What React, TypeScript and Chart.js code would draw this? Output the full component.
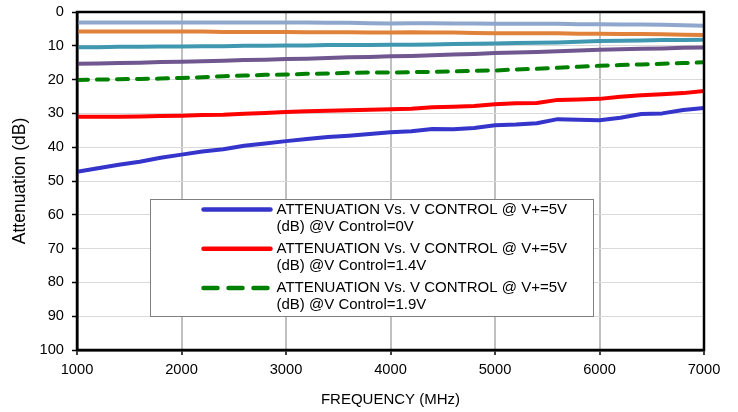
import { useEffect, useRef } from 'react';
import { Chart, registerables } from 'chart.js';

Chart.register(...registerables);

const frequencies = [
  1000, 1200, 1400, 1600, 1800, 2000, 2200, 2400, 2600, 2800, 3000, 3200, 3400, 3600, 3800, 4000,
  4200, 4400, 4600, 4800, 5000, 5200, 5400, 5600, 5800, 6000, 6200, 6400, 6600, 6800, 7000,
];

const att0V = [
  47.3, 46.2, 45.2, 44.3, 43.1, 42.2, 41.3, 40.6, 39.6, 38.9, 38.2, 37.6, 37.0, 36.6, 36.1, 35.6,
  35.3, 34.6, 34.7, 34.3, 33.5, 33.3, 32.9, 31.7, 31.9, 32.0, 31.3, 30.2, 30.0, 29.0, 28.4,
];
const att14V = [
  31.0, 31.0, 31.0, 30.9, 30.8, 30.7, 30.5, 30.4, 30.1, 29.9, 29.6, 29.4, 29.2, 29.1, 28.9, 28.8,
  28.6, 28.2, 28.0, 27.8, 27.3, 27.0, 26.9, 26.0, 25.9, 25.7, 25.1, 24.6, 24.3, 24.0, 23.4,
];
const att19V = [
  20.1, 20.0, 19.9, 19.8, 19.7, 19.5, 19.3, 19.0, 18.8, 18.6, 18.5, 18.3, 18.2, 18.0, 17.9, 17.9,
  17.8, 17.7, 17.6, 17.4, 17.3, 17.0, 16.8, 16.5, 16.2, 15.9, 15.7, 15.5, 15.3, 15.1, 14.9,
];
const attTraceD = [
  15.3, 15.2, 15.1, 15.0, 14.8, 14.7, 14.6, 14.4, 14.2, 14.1, 13.9, 13.8, 13.6, 13.4, 13.3, 13.1,
  13.0, 12.8, 12.6, 12.4, 12.1, 12.0, 11.8, 11.6, 11.4, 11.2, 11.0, 10.9, 10.8, 10.6, 10.5,
];
const attTraceC = [
  10.4, 10.4, 10.3, 10.3, 10.2, 10.2, 10.1, 10.1, 10.0, 10.0, 9.9, 9.9, 9.8, 9.8, 9.8, 9.7,
  9.7, 9.6, 9.5, 9.4, 9.3, 9.2, 9.1, 9.0, 8.8, 8.6, 8.5, 8.4, 8.3, 8.3, 8.2,
];
const attTraceB = [
  5.8, 5.8, 5.8, 5.8, 5.8, 5.8, 5.8, 5.9, 5.9, 5.9, 5.9, 6.0, 6.0, 6.0, 6.1, 6.1,
  6.0, 6.1, 6.1, 6.2, 6.3, 6.3, 6.3, 6.3, 6.4, 6.4, 6.5, 6.5, 6.6, 6.7, 6.8,
];
const attTraceA = [
  3.1, 3.1, 3.1, 3.1, 3.1, 3.1, 3.1, 3.1, 3.1, 3.1, 3.1, 3.1, 3.2, 3.2, 3.3, 3.4,
  3.3, 3.3, 3.4, 3.4, 3.5, 3.5, 3.5, 3.5, 3.6, 3.6, 3.7, 3.7, 3.8, 3.9, 4.1,
];

const legendTitle = 'ATTENUATION Vs. V CONTROL @ V+=5V';
const legendSubtitles = ['(dB) @V Control=0V', '(dB) @V Control=1.4V', '(dB) @V Control=1.9V'];

const xTicks = [1000, 2000, 3000, 4000, 5000, 6000, 7000];
const yTicks = [0, 10, 20, 30, 40, 50, 60, 70, 80, 90, 100];

const xTitle = 'FREQUENCY (MHz)';
const yTitle = 'Attenuation (dB)';

const FONT = "'Liberation Sans', Arial, Helvetica, sans-serif";

const toPoints = (vals: number[]) => frequencies.map((f, i) => ({ x: f, y: vals[i] }));

const frameAndLegend = {
  id: 'frameAndLegend',
  afterDraw(chart: any) {
    const { ctx, chartArea: ca } = chart;
    ctx.save();
    // frame around plot area
    ctx.strokeStyle = '#000';
    ctx.lineWidth = 2.5;
    ctx.strokeRect(ca.left, ca.top, ca.right - ca.left, ca.bottom - ca.top);

    // legend box
    const bx = ca.left + 73.5;
    const by = ca.top + 187.5;
    const bw = 443;
    const bh = 117;
    ctx.fillStyle = '#fff';
    ctx.fillRect(bx, by, bw, bh);
    ctx.strokeStyle = '#7f7f7f';
    ctx.lineWidth = 1;
    ctx.strokeRect(bx, by, bw, bh);

    const items = chart.data.datasets
      .filter((d: any) => d.legendLines)
      .sort((a: any, b: any) => a.legendOrder - b.legendOrder);
    ctx.font = `15px ${FONT}`;
    ctx.textBaseline = 'middle';
    ctx.textAlign = 'left';
    items.forEach((d: any, i: number) => {
      const cy = by + 10 + i * 39.2;
      ctx.save();
      ctx.strokeStyle = d.borderColor;
      ctx.lineWidth = 4.5;
      ctx.lineCap = 'round';
      ctx.setLineDash(d.borderDash && d.borderDash.length ? [14, 11] : []);
      ctx.beginPath();
      ctx.moveTo(bx + 53, cy);
      ctx.lineTo(bx + 120, cy);
      ctx.stroke();
      ctx.restore();
      ctx.fillStyle = '#000';
      d.legendLines.forEach((t: string, j: number) => {
        ctx.fillText(t, bx + 126, cy + j * 17.4);
      });
    });
    ctx.restore();
  },
};

export default function App() {
  const ref = useRef<HTMLCanvasElement | null>(null);

  useEffect(() => {
    if (!ref.current) return;
    const mk = (label: string, vals: number[], color: string, extra: any = {}) => ({
      label,
      data: toPoints(vals),
      borderColor: color,
      backgroundColor: color,
      borderWidth: 4,
      pointRadius: 0,
      fill: false,
      tension: 0,
      borderJoinStyle: 'round',
      ...extra,
    });
    const chart = new Chart(ref.current, {
      type: 'line',
      data: {
        datasets: [
          mk('Trace A', attTraceA, '#8fa7cd'),
          mk('Trace B', attTraceB, '#e0823a'),
          mk('Trace C', attTraceC, '#3f98b0'),
          mk('Trace D', attTraceD, '#70578f'),
          mk(`${legendTitle} ${legendSubtitles[2]}`, att19V, '#008000', {
            borderDash: [11, 9],
            borderCapStyle: 'round',
            legendLines: [legendTitle, legendSubtitles[2]],
            legendOrder: 2,
          }),
          mk(`${legendTitle} ${legendSubtitles[1]}`, att14V, '#ff0000', {
            legendLines: [legendTitle, legendSubtitles[1]],
            legendOrder: 1,
          }),
          mk(`${legendTitle} ${legendSubtitles[0]}`, att0V, '#3535cc', {
            legendLines: [legendTitle, legendSubtitles[0]],
            legendOrder: 0,
          }),
        ] as any,
      },
      options: {
        responsive: true,
        maintainAspectRatio: false,
        animation: false,
        layout: { padding: { top: 12, right: 34, left: 0, bottom: 0 } },
        plugins: {
          legend: { display: false },
          tooltip: { enabled: false },
        },
        scales: {
          x: {
            type: 'linear',
            min: xTicks[0],
            max: xTicks[xTicks.length - 1],
            afterBuildTicks: (s: any) => {
              s.ticks = xTicks.map((v) => ({ value: v }));
            },
            afterFit: (s: any) => {
              s.height = 62;
              s.paddingLeft = 0;
              s.paddingRight = 0;
            },
            ticks: {
              color: '#000',
              font: { family: FONT, size: 14.67 },
              padding: 6,
              maxRotation: 0,
              autoSkip: false,
              callback: (v: any) => String(v),
            },
            grid: {
              color: '#c0c0c0',
              lineWidth: 2,
              tickColor: '#000',
              tickLength: 5,
              tickWidth: 1.5,
            },
            border: { color: '#000', width: 2.5 },
            title: {
              display: true,
              text: xTitle,
              color: '#000',
              font: { family: FONT, size: 15 },
              padding: { top: 0, bottom: 3 },
            },
          },
          y: {
            type: 'linear',
            reverse: true,
            min: yTicks[0],
            max: yTicks[yTicks.length - 1],
            afterBuildTicks: (s: any) => {
              s.ticks = yTicks.map((v) => ({ value: v }));
            },
            afterFit: (s: any) => {
              s.width = 77;
              s.paddingTop = 0;
              s.paddingBottom = 0;
            },
            ticks: {
              color: '#000',
              font: { family: FONT, size: 14.67 },
              padding: 8,
              autoSkip: false,
            },
            grid: {
              color: '#d9d9d9',
              lineWidth: 1,
              tickColor: '#000',
              tickLength: 5,
              tickWidth: 1.5,
            },
            border: { color: '#000', width: 2.5 },
            title: {
              display: true,
              text: yTitle,
              color: '#000',
              font: { family: FONT, size: 17.5 },
              padding: { top: 10, bottom: 0 },
            },
          },
        },
      } as any,
      plugins: [frameAndLegend],
    });
    return () => chart.destroy();
  }, []);

  return (
    <div style={{ position: 'absolute', left: 0, top: 0, width: 738, height: 412, background: '#fff' }}>
      <canvas ref={ref} />
    </div>
  );
}
